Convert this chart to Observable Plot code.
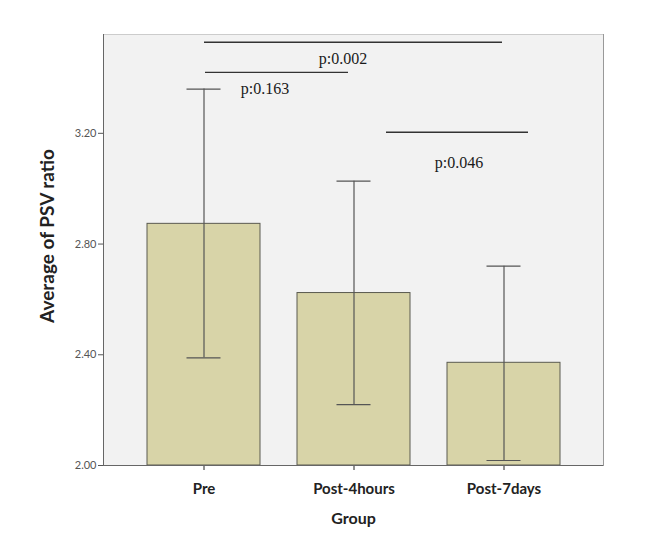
<!DOCTYPE html>
<html><head><meta charset="utf-8">
<script src="https://cdn.jsdelivr.net/npm/d3@7"></script>
<script src="https://cdn.jsdelivr.net/npm/@observablehq/plot@0.6"></script>
<style>
body{margin:0;background:#fff;}
#chart svg{display:block;}
</style>
</head><body><div id="chart"></div>
<script>
const groups = ["Pre", "Post-4hours", "Post-7days"];
const means = [2.873, 2.623, 2.371];
const upper = [3.36, 3.027, 2.72];
const lower = [2.389, 2.22, 2.018];
const yTicks = [2.0, 2.4, 2.8, 3.2];
const yDomain = [2.0, 3.557];
const compFrom = ["Pre", "Pre", "Post-4hours"];
const compTo = ["Post-7days", "Post-4hours", "Post-7days"];
const compY = [3.529, 3.42, 3.204];
const pLabels = ["p:0.002", "p:0.163", "p:0.046"];
const pLabelGroup = ["Post-4hours", "Pre", "Post-7days"];
const pLabelY = [3.468, 3.359, 3.095];
const xTitle = "Group";
const yTitle = "Average of PSV ratio";

const rows = groups.map((g, i) => ({group: g, mean: means[i], hi: upper[i], lo: lower[i]}));
const comps = compFrom.map((f, i) => ({from: f, to: compTo[i], y: compY[i]}));
const insets = [[57, 58], [58, 62], [89, 32]];
const labelDx = [-11, 61, -45];

const sans = "Lato, 'Open Sans', sans-serif";

const chart = Plot.plot({
  width: 650,
  height: 545,
  marginLeft: 103,
  marginTop: 34,
  marginRight: 47,
  marginBottom: 80,
  style: {fontFamily: sans, background: "#fff"},
  x: {domain: groups, paddingInner: 0.247, paddingOuter: 0.29},
  y: {domain: yDomain},
  marks: [
    Plot.frame({fill: "#f2f2f2", stroke: "#cccccc"}),
    Plot.barY(rows, {x: "group", y1: () => yDomain[0], y2: "mean", fill: "#d8d4a8", stroke: "#5a5a50", strokeWidth: 1}),
    Plot.ruleX(rows, {x: "group", y1: "lo", y2: "hi", stroke: "#555", strokeWidth: 1.2}),
    Plot.tickY(rows, {x: "group", y: "hi", stroke: "#555", strokeWidth: 1.2, insetLeft: 39.5, insetRight: 39.5}),
    Plot.tickY(rows, {x: "group", y: "lo", stroke: "#555", strokeWidth: 1.2, insetLeft: 39.5, insetRight: 39.5}),
    ...comps.map((c, i) => Plot.ruleY([c], {x1: "from", x2: "to", y: "y", stroke: "#333", strokeWidth: 1.4, insetLeft: insets[i][0], insetRight: insets[i][1]})),
    ...pLabels.map((t, i) => Plot.text([t], {x: () => pLabelGroup[i], y: () => pLabelY[i], text: d => d, dx: labelDx[i], fontFamily: "'Liberation Serif', serif", fontSize: 16, fill: "#1a1a1a"})),
    Plot.axisY({ticks: yTicks, tickFormat: ".2f", tickSize: 5, tickPadding: 2, fontSize: 11, color: "#555", label: null}),
    Plot.axisX({tickSize: 5, tickPadding: 13, fontSize: 15, fontWeight: "bold", color: "#222", label: null}),
    Plot.frame({anchor: "left", stroke: "#666"}),
    Plot.frame({anchor: "bottom", stroke: "#666"}),
    Plot.frame({anchor: "right", stroke: "#999"}),
    Plot.text([xTitle], {frameAnchor: "bottom", dy: 58, text: d => d, fontSize: 16, fontWeight: "bold", fill: "#222"}),
    Plot.text([yTitle], {frameAnchor: "left", textAnchor: "middle", dx: -56, dy: -14, rotate: -90, text: d => d, fontSize: 19, fontWeight: "bold", fill: "#222"})
  ]
});
document.getElementById("chart").appendChild(chart);
</script>
</body></html>
